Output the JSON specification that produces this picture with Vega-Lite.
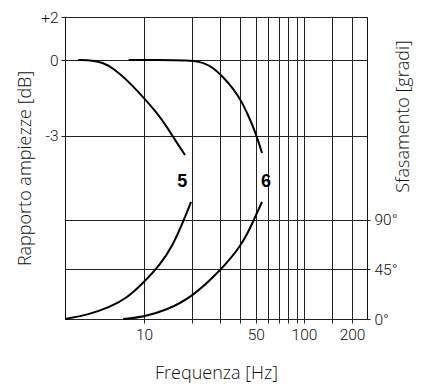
{
  "$schema": "https://vega.github.io/schema/vega-lite/v6.json",
  "width": 302,
  "height": 302,
  "autosize": {"type": "none"},
  "padding": {"left": 65, "top": 17, "right": 68, "bottom": 70},
  "background": "white",
  "config": {
    "view": {"stroke": "#111", "strokeWidth": 1},
    "axis": {
      "labelFont": "Roboto",
      "labelFontSize": 15.5,
      "labelFontWeight": 300,
      "labelColor": "#111",
      "titleFont": "Open Sans",
      "titleFontSize": 18,
      "titleFontWeight": 300,
      "titleColor": "#111",
      "gridColor": "#222",
      "gridOpacity": 1,
      "gridWidth": 1,
      "tickColor": "#222",
      "domain": false,
      "labelOverlap": false,
      "labelFlush": false
    }
  },
  "datasets": {
    "curves": [
      {"curve": "5", "kind": "amp", "f": 3.87, "value": 0},
      {"curve": "5", "kind": "amp", "f": 4.8, "value": -0.02},
      {"curve": "5", "kind": "amp", "f": 5.54, "value": -0.11},
      {"curve": "5", "kind": "amp", "f": 6.4, "value": -0.32},
      {"curve": "5", "kind": "amp", "f": 7.83, "value": -0.79},
      {"curve": "5", "kind": "amp", "f": 9.86, "value": -1.46},
      {"curve": "5", "kind": "amp", "f": 12.05, "value": -2.09},
      {"curve": "5", "kind": "amp", "f": 13.92, "value": -2.65},
      {"curve": "5", "kind": "amp", "f": 15.62, "value": -3.16},
      {"curve": "5", "kind": "amp", "f": 18.03, "value": -3.75},
      {"curve": "6", "kind": "amp", "f": 8.0, "value": 0},
      {"curve": "6", "kind": "amp", "f": 16.79, "value": 0},
      {"curve": "6", "kind": "amp", "f": 20.5, "value": -0.03},
      {"curve": "6", "kind": "amp", "f": 23.5, "value": -0.1},
      {"curve": "6", "kind": "amp", "f": 26.98, "value": -0.3},
      {"curve": "6", "kind": "amp", "f": 31.17, "value": -0.67},
      {"curve": "6", "kind": "amp", "f": 35.98, "value": -1.11},
      {"curve": "6", "kind": "amp", "f": 40.99, "value": -1.66},
      {"curve": "6", "kind": "amp", "f": 44.67, "value": -2.17},
      {"curve": "6", "kind": "amp", "f": 49.41, "value": -2.8},
      {"curve": "6", "kind": "amp", "f": 54.64, "value": -3.67},
      {"curve": "5", "kind": "phase", "f": 3.21, "value": 0},
      {"curve": "5", "kind": "phase", "f": 4.4, "value": 3.6},
      {"curve": "5", "kind": "phase", "f": 6.13, "value": 10.9},
      {"curve": "5", "kind": "phase", "f": 7.83, "value": 19.1},
      {"curve": "5", "kind": "phase", "f": 9.86, "value": 32.7},
      {"curve": "5", "kind": "phase", "f": 12.59, "value": 49.1},
      {"curve": "5", "kind": "phase", "f": 15.18, "value": 67.3},
      {"curve": "5", "kind": "phase", "f": 17.53, "value": 88.2},
      {"curve": "5", "kind": "phase", "f": 19.67, "value": 106.4},
      {"curve": "6", "kind": "phase", "f": 7.39, "value": 0},
      {"curve": "6", "kind": "phase", "f": 9.86, "value": 1.8},
      {"curve": "6", "kind": "phase", "f": 13.92, "value": 8.2},
      {"curve": "6", "kind": "phase", "f": 19.95, "value": 20},
      {"curve": "6", "kind": "phase", "f": 29.85, "value": 43.6},
      {"curve": "6", "kind": "phase", "f": 40.99, "value": 67.3},
      {"curve": "6", "kind": "phase", "f": 47.98, "value": 88.2},
      {"curve": "6", "kind": "phase", "f": 54.64, "value": 106.4}
    ],
    "labels": [
      {"label": "5", "f": 17.3, "value": -4.8},
      {"label": "6", "f": 57.8, "value": -4.8}
    ]
  },
  "encoding": {
    "x": {
      "field": "f",
      "type": "quantitative",
      "scale": {"type": "log", "domain": [3.2, 248], "nice": false},
      "axis": {
        "title": "Frequenza [Hz]",
        "values": [10, 20, 30, 40, 50, 60, 70, 80, 90, 100, 150, 200],
        "format": "d",
        "labelExpr": "indexof([10, 50, 100, 200], datum.value) >= 0 ? datum.label : ''",
        "grid": true,
        "tickSize": 4,
        "labelPadding": 4,
        "titlePadding": 22
      }
    }
  },
  "layer": [
    {
      "layer": [
        {
          "data": {"name": "curves"},
          "transform": [{"filter": "datum.kind === 'amp'"}],
          "mark": {"type": "line", "color": "#000", "strokeWidth": 2, "interpolate": "basis"},
          "encoding": {
            "y": {
              "field": "value",
              "type": "quantitative",
              "scale": {"domain": [-10.225, 0, 2], "range": [302, 43, 0], "nice": false, "zero": false},
              "axis": {
                "orient": "left",
                "title": "Rapporto ampiezze [dB]",
                "values": [-3, 0, 2],
                "labelExpr": "datum.value == 2 ? '+2' : (datum.value == -3 ? '-3' : '0')",
                "grid": true,
                "tickSize": 4,
                "labelPadding": 3,
                "titlePadding": 6
              }
            },
            "detail": {"field": "curve"}
          }
        },
        {
          "data": {"name": "labels"},
          "mark": {"type": "text", "font": "Liberation Sans", "fontSize": 18, "fontWeight": "bold", "color": "#000", "baseline": "middle", "align": "center"},
          "encoding": {
            "y": {"field": "value", "type": "quantitative"},
            "text": {"field": "label"}
          }
        }
      ]
    },
    {
      "data": {"name": "curves"},
      "transform": [{"filter": "datum.kind === 'phase'"}],
      "mark": {"type": "line", "color": "#000", "strokeWidth": 2, "interpolate": "basis"},
      "encoding": {
        "y": {
          "field": "value",
          "type": "quantitative",
          "scale": {"domain": [0, 274.5], "nice": false, "zero": false},
          "axis": {
            "orient": "right",
            "title": "Sfasamento [gradi]",
            "values": [0, 45, 90],
            "labelExpr": "datum.label + '°'",
            "grid": true,
            "tickSize": 3,
            "labelPadding": 4,
            "titleAngle": 270,
            "titleAlign": "center",
            "titleBaseline": "middle",
            "titleX": 36,
            "titleY": 99
          }
        },
        "detail": {"field": "curve"}
      }
    }
  ],
  "resolve": {"scale": {"y": "independent"}, "axis": {"y": "independent"}}
}
